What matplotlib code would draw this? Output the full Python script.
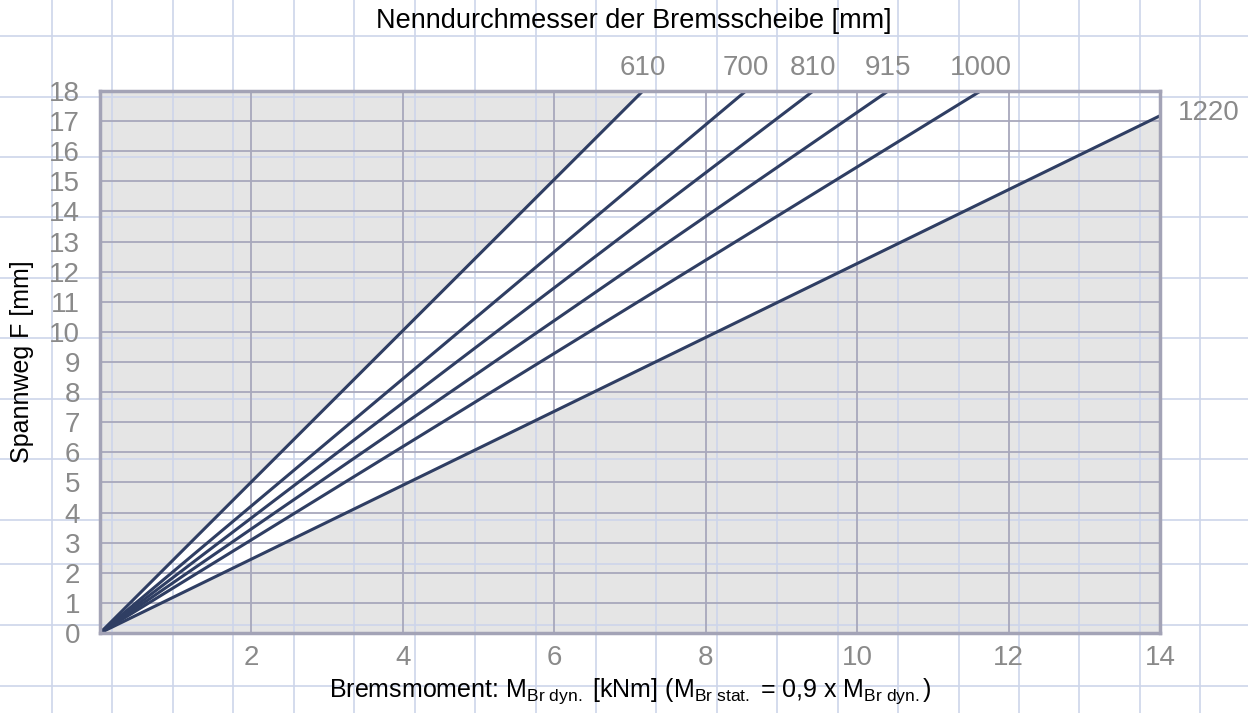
import numpy as np
import matplotlib
matplotlib.use("Agg")
import matplotlib.pyplot as plt

# Nominal disc diameters [mm] and braking torque [kNm] reached at F = 18 mm
diameters = ["610", "700", "810", "915", "1000", "1220"]
torque_at_18 = [7.17, 8.53, 9.42, 10.41, 11.63, 14.67]
F_MAX = 18

plt.rcParams['font.family'] = ['Liberation Sans', 'DejaVu Sans']
plt.rcParams['mathtext.fontset'] = 'custom'
plt.rcParams['mathtext.rm'] = 'Liberation Sans'
plt.rcParams['mathtext.it'] = 'Liberation Sans'

W, H = 1248, 713
fig = plt.figure(figsize=(W / 100, H / 100), dpi=100)
fig.patch.set_facecolor('white')

ax = fig.add_axes([100 / W, (H - 633) / H, 1060 / W, 542 / H])
ax.set_facecolor('#e5e5e5')
ax.set_xlim(0, 14)
ax.set_ylim(0, F_MAX)

# white band between the smallest and largest disc
x = np.linspace(0, 14, 400)
upper = np.minimum(F_MAX / torque_at_18[0] * x, F_MAX)
lower = F_MAX / torque_at_18[-1] * x
ax.fill_between(x, lower, upper, color='white', zorder=0.5, lw=0)

# graph paper background over the whole figure (pixel positions)
paper = '#cdd5ea'
paper_x = np.arange(52, W, 60.44)
paper_y = [36, 97, 157, 217, 278, 338, 399, 459, 520, 564, 625, 686]
for px in paper_x:
    ax.plot([px / W, px / W], [0, 1], transform=fig.transFigure, color=paper,
            lw=1.2, clip_on=False, zorder=0.8)
for py in paper_y:
    ax.plot([0, 1], [1 - py / H, 1 - py / H], transform=fig.transFigure, color=paper,
            lw=1.2, clip_on=False, zorder=0.8)

ax.set_xticks(range(2, 15, 2))
ax.set_yticks(range(0, 19))
ax.grid(True, color='#a8a8bc', lw=1.3)
for line in ax.get_xgridlines() + ax.get_ygridlines():
    line.set_zorder(1)
ax.tick_params(length=0, labelsize=20, labelcolor='#8a8a8a')
ax.tick_params(axis='x', pad=8.5)
ax.tick_params(axis='y', pad=14.4)
for s in ax.spines.values():
    s.set_color('#a3a3b6')
    s.set_linewidth(2.5)
    s.set_zorder(4)

for name, t18 in zip(diameters, torque_at_18):
    ax.plot([0, t18], [0, F_MAX], color='#2f3e63', lw=2.2, zorder=3, solid_capstyle='butt')
    if t18 <= 14:
        ax.annotate(name, (t18, F_MAX), xytext=(0, 7), textcoords='offset points',
                    ha='center', va='bottom', fontsize=20, color='#8a8a8a')
    else:
        ax.annotate(name, (14, F_MAX / t18 * 14), xytext=(13, 2), textcoords='offset points',
                    ha='left', va='center', fontsize=20, color='#8a8a8a')

fig.text(634 / W, 1 - 21 / H, "Nenndurchmesser der Bremsscheibe [mm]", ha='center', va='center',
         fontsize=19.5, color='black')
ax.set_xlabel(r"Bremsmoment: M$_{\mathrm{Br\ dyn.}}$ [kNm] (M$_{\mathrm{Br\ stat.}}$ = 0,9 x M$_{\mathrm{Br\ dyn.}}$)",
              fontsize=18, color='black', labelpad=4)
ax.set_ylabel("Spannweg F [mm]", fontsize=18, color='black', labelpad=11)

fig.savefig("out.png", dpi=100)
